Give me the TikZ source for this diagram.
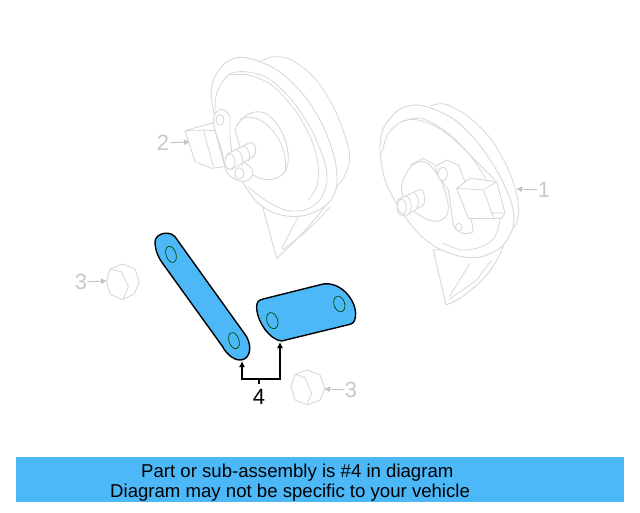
\documentclass[tikz,border=0pt]{standalone}
\usepackage{fontspec}
\setmainfont{Liberation Sans}
\usetikzlibrary{positioning,arrows.meta}

\begin{document}
\begin{tikzpicture}[x=1pt,y=-1pt,
    ghost/.style ={draw=ghostgray, line width=0.9pt, fill=white, line join=round},
    ghostline/.style ={draw=ghostgray, line width=0.8pt, line join=round},
    ghostarrow/.style ={draw=arrowgray, line width=0.9pt, -{Latex[length=6pt,width=6pt]}},
    callout/.style ={draw=black, line width=1.2pt},
    part/.style ={draw=black, line width=1.4pt, fill=partblue, line join=round},
    hole/.style ={draw=black!70!green, line width=0.7pt, fill=partblue},
    ghostlabel/.style ={text=labelgray, font=\fontsize{22}{22}\selectfont, inner sep=0pt},
    banner/.style ={font=\fontsize{18.6}{20}\selectfont, inner sep=0pt, anchor=base west},
    third/.style ={x=0.3333pt, y=-0.3333pt}]
   \definecolor{ghostgray}{HTML}{D8D8D8}
   \definecolor{arrowgray}{HTML}{C4C4C4}
   \definecolor{labelgray}{HTML}{C8C8C8}
   \definecolor{partblue}{HTML}{4DB8F8}
   \useasboundingbox (0,0) rectangle (640,512);
   \fill[white] (0,0) rectangle (640,512);

   \begin{scope}[shift={(140,40)},third]
      \draw[ghost] (320,430) -- (365,490) -- (410,655) .. controls (480,590) and (550,520) .. (590,440) -- (480,500) -- cycle;
      \draw[ghostline] (425,625) -- (475,530) (425,630) .. controls (470,600) and (530,550) .. (570,500);
   \end{scope}

   \begin{scope}[shift={(205,50)},third]
      \draw[ghostline] plot[smooth] coordinates {(165,35) (205,20) (260,30) (330,85) (390,180) (430,290) (432,340) (415,385) (393,412)};
      \draw[ghost] plot[smooth cycle] coordinates {(20,150) (25,90) (60,40) (105,22) (165,35) (230,70) (300,140) (355,230) (390,330) (395,410) (370,460) (320,490) (270,500) (210,490) (160,460) (115,400) (50,280)};
      \draw[ghostline] plot[smooth] coordinates {(30,190) (35,130) (70,75) (120,65) (190,85) (260,150) (320,240) (360,340) (365,400) (345,450) (300,480) (240,480) (180,450) (130,410)};
      \draw[ghostline] plot[smooth] coordinates {(70,75) (130,75) (200,105) (270,180) (320,270) (340,350) (335,410) (310,450)};
      \draw[ghost] (90,240) .. controls (105,195) and (155,170) .. (190,195) .. controls (240,235) and (265,320) .. (240,365) .. controls (215,400) and (160,395) .. (125,360) -- cycle;
      \draw[ghostline] (105,208) .. controls (140,190) and (190,210) .. (225,275) .. controls (240,310) and (245,340) .. (240,365);
   \end{scope}

   \begin{scope}[shift={(180,100)},third]
      \draw[ghost] (15,92) -- (100,68) -- (135,200) -- (95,205) -- (45,185) -- cycle;
      \draw[ghostline] (15,92) -- (70,90) -- (100,200) (70,90) -- (105,92) -- (135,200);
      \draw[ghost] (100,65) .. controls (100,25) and (135,15) .. (150,50) -- (150,110) -- (155,155) -- (215,205) .. controls (230,240) and (190,255) .. (160,235) .. controls (130,220) and (135,190) .. (125,150) -- (105,90) -- cycle;
      \draw[ghost] (120,60) ellipse [x radius=12, y radius=16];
      \draw[ghost] (178,220) ellipse [x radius=14, y radius=17];
      \draw[ghost] (205,130) -- (145,160) .. controls (130,175) and (135,215) .. (155,208) -- (220,170) .. controls (235,155) and (225,120) .. (205,130) -- cycle;
      \draw[ghostline] (170,150) .. controls (185,155) and (195,180) .. (185,198) (192,138) .. controls (205,145) and (215,165) .. (205,185);
      \draw[ghost] (150,185) ellipse [x radius=15, y radius=23];
   \end{scope}

   \begin{scope}[shift={(360,90)},third]
      \draw[ghost] (220,480) -- (258,645) .. controls (300,630) and (320,610) .. (345,590) .. controls (380,560) and (410,520) .. (430,470) -- cycle;
      \draw[ghostline] (268,620) -- (330,520) (268,628) -- (350,570) -- (395,510);
   \end{scope}

   \begin{scope}[shift={(375,100)},third]
      \draw[ghostline] plot[smooth] coordinates {(165,18) (210,12) (280,50) (350,120) (405,220) (430,310) (425,370) (395,402)};
      \draw[ghost] plot[smooth cycle] coordinates {(15,150) (25,85) (70,30) (120,15) (170,25) (240,60) (310,130) (370,220) (410,310) (415,380) (380,440) (320,470) (260,470) (190,445) (130,400) (70,320) (30,240)};
      \draw[ghostline] plot[smooth] coordinates {(20,160) (40,100) (80,65) (130,60) (200,90) (280,160) (340,250) (375,340) (360,410) (320,440) (260,450) (205,430)};
      \draw[ghostline] plot[smooth] coordinates {(80,65) (140,55) (220,100) (300,180) (360,240)};
   \end{scope}

   \begin{scope}[shift={(390,150)},third]
      \draw[ghost] (35,105) .. controls (45,60) and (75,30) .. (100,35) .. controls (130,40) and (170,110) .. (175,170) .. controls (178,210) and (140,225) .. (105,205) .. controls (65,185) and (30,150) .. (35,105) -- cycle;
      \draw[ghostline] (60,45) -- (100,25) -- (135,45);
      \draw[ghost] (135,50) -- (170,30) -- (205,45) -- (225,95) -- (250,245) .. controls (235,255) and (205,255) .. (190,225) -- (175,120) -- (150,85) -- cycle;
      \draw[ghost] (158,72) ellipse [x radius=14, y radius=20];
      \draw[ghost] (206,232) ellipse [x radius=9, y radius=12];
      \draw[ghost] (200,115) -- (240,85) -- (320,95) -- (345,190) -- (335,205) -- (235,205) -- cycle;
      \draw[ghostline] (200,115) -- (280,120) -- (320,95) (280,120) -- (312,205) (300,188) -- (340,190);
      \draw[ghost] (90,118) -- (25,148) .. controls (15,165) and (30,200) .. (50,195) -- (100,165) .. controls (110,150) and (100,115) .. (90,118) -- cycle;
      \draw[ghostline] (50,138) .. controls (62,145) and (68,170) .. (60,188) (72,128) .. controls (85,135) and (90,155) .. (80,175);
      \draw[ghostline] (35,172) ellipse [x radius=14, y radius=24];
   \end{scope}

   \begin{scope}[shift={(100,258)},third]
      \draw[ghost] (68,18) -- (105,33) -- (118,72) -- (103,108) -- (68,125) -- (30,108) -- (20,72) -- (30,33) -- cycle;
      \draw[ghostline] (30,33) -- (65,42) -- (85,85) -- (70,125);
   \end{scope}
   \begin{scope}[shift={(285,365)},third]
      \draw[ghost] (67,15) -- (105,30) -- (120,70) -- (105,105) -- (67,120) -- (30,105) -- (18,65) -- (30,28) -- cycle;
      \draw[ghostline] (30,28) -- (60,38) -- (80,85) -- (65,120);
   \end{scope}

   \begin{scope}[shift={(60,225)},third]
      \draw[part] (285,50) .. controls (285,25) and (335,10) .. (352,45) -- (560,335) .. controls (580,375) and (565,405) .. (540,405) .. controls (520,405) and (498,385) .. (488,365) -- (310,118) .. controls (295,98) and (285,75) .. (285,50) -- cycle;
      \draw[hole] (333,88) ellipse [x radius=15, y radius=25, rotate=18];
      \draw[hole] (522,347) ellipse [x radius=15, y radius=25, rotate=18];
      \draw[part] (590,245) .. controls (590,230) and (597,225) .. (610,222) -- (790,177) .. controls (840,170) and (885,220) .. (887,265) .. controls (887,285) and (882,295) .. (870,298) -- (665,348) .. controls (630,345) and (590,290) .. (590,245) -- cycle;
      \draw[hole] (637,287) ellipse [x radius=16, y radius=25, rotate=18];
      \draw[hole] (838,237) ellipse [x radius=16, y radius=24, rotate=18];
   \end{scope}

   \node[ghostlabel] (lab1) at (544,190) {1};
   \node[ghostlabel] (lab2) at (163,143) {2};
   \node[ghostlabel] (lab3a) at (81,282) {3};
   \node[ghostlabel] (lab3b) at (351,390) {3};
   \node[inner sep=0pt, font=\fontsize{22}{22}\selectfont] (lab4) at (259,397) {4};

   \coordinate (tip1) at (516,189);
   \coordinate (tip2) at (190,142);
   \coordinate (tip3a) at (107,281);
   \coordinate (tip3b) at (324,389);
   \coordinate (tipstrap) at (242,361);
   \coordinate (tipsleeve) at (280,342);
   \coordinate (joint) at (259,379);

   \draw[ghostarrow] (lab1) -- (tip1);
   \draw[ghostarrow] (lab2) -- (tip2);
   \draw[ghostarrow] (lab3a) -- (tip3a);
   \draw[ghostarrow] (lab3b) -- (tip3b);
   \draw[callout, shorten >=5pt] (joint) -- (lab4);
   \draw[callout, -{Latex[length=6pt,width=6pt]}] (joint) -| (tipstrap);
   \draw[callout, -{Latex[length=6pt,width=6pt]}] (joint) -| (tipsleeve);

   \fill[partblue] (16,457) rectangle (624,502);
   \node[banner] (line1) at (141,477) {Part or sub-assembly is \#4 in diagram};
   \node[banner] (line2) at (110,497) {Diagram may not be specific to your vehicle};
 \end{tikzpicture}
\end{document}
